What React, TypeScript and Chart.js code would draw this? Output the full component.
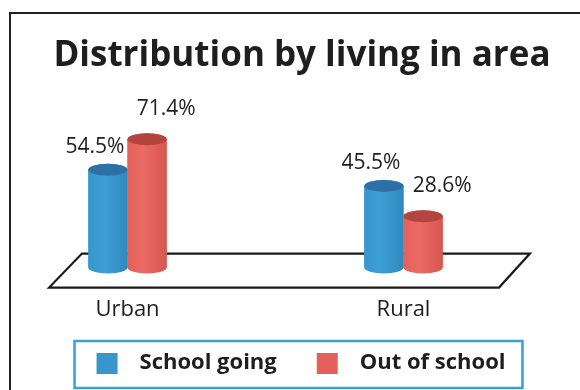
import React, { useEffect, useRef } from "react";
import { Chart, registerables } from "chart.js";

Chart.register(...registerables);

const categories = ["Urban", "Rural"];
const seriesLabels = ["School going", "Out of school"];
const schoolGoing = [54.5, 45.5];
const outOfSchool = [71.4, 28.6];
const chartTitle = "Distribution by living in area";

const FONT = "'Open Sans', Lato, sans-serif";
const TEXT = "#1e1e1e";
const BODY = ["#3796cc", "#e4605a"];
const BODY_LIGHT = ["#3d9fd6", "#ea6b64"];
const BODY_DARK = ["#3189bd", "#d85650"];
const TOPS = ["#2e70a6", "#b3443f"];
const LABEL_DX = [-13, 19];
const LABEL_DY = [-23, -30];

function swatch(color: string) {
  const c = document.createElement("canvas");
  c.width = 62;
  c.height = 21;
  const g = c.getContext("2d")!;
  g.fillStyle = color;
  g.fillRect(30, 0, 21, 21);
  return c;
}

function drawCylinder(ctx: CanvasRenderingContext2D, x: number, top: number, base: number, w: number, i: number) {
  const rx = w / 2;
  const ry = 6;
  ctx.save();
  const grad = ctx.createLinearGradient(x - rx, 0, x + rx, 0);
  grad.addColorStop(0, BODY[i]);
  grad.addColorStop(0.4, BODY_LIGHT[i]);
  grad.addColorStop(1, BODY_DARK[i]);
  ctx.fillStyle = grad;
  ctx.beginPath();
  ctx.moveTo(x - rx, top);
  ctx.lineTo(x - rx, base);
  ctx.ellipse(x, base, rx, ry, 0, Math.PI, 0, true);
  ctx.lineTo(x + rx, top);
  ctx.ellipse(x, top, rx, ry, 0, 0, Math.PI, true);
  ctx.closePath();
  ctx.fill();
  ctx.fillStyle = TOPS[i];
  ctx.beginPath();
  ctx.ellipse(x, top, rx, ry, 0, 0, Math.PI * 2);
  ctx.fill();
  ctx.restore();
}

const floorPlugin = {
  id: "floor3d",
  afterLayout(chart: any) {
    if (chart.legend) {
      chart.legend.left -= 16;
      chart.legend.right -= 16;
    }
  },
  beforeDatasetsDraw(chart: any) {
    const { ctx } = chart;
    const xs = chart.scales.x;
    const ys = chart.scales.y;
    const x0 = xs.getPixelForValue(0);
    const x1 = xs.getPixelForValue(1);
    const step = x1 - x0;
    const base = ys.getPixelForValue(0);
    const backY = base - 14;
    const frontY = base + 20;
    ctx.save();
    ctx.strokeStyle = "#1a1a1a";
    ctx.lineWidth = 2.2;
    ctx.lineJoin = "miter";
    ctx.beginPath();
    ctx.moveTo(x0 - 0.165 * step, backY);
    ctx.lineTo(x1 + 0.458 * step, backY);
    ctx.lineTo(x1 + 0.346 * step, frontY);
    ctx.lineTo(x0 - 0.284 * step, frontY);
    ctx.closePath();
    ctx.stroke();
    ctx.restore();
  },
  afterDatasetsDraw(chart: any) {
    const { ctx } = chart;
    const metas = [0, 1].map((d) => chart.getDatasetMeta(d));
    for (let k = 0; k < categories.length; k++) {
      metas.forEach((meta: any, d: number) => {
        const el = meta.data[k];
        drawCylinder(ctx, el.x, el.y, el.base, el.width, d);
      });
    }
    ctx.save();
    ctx.fillStyle = TEXT;
    ctx.font = `21px ${FONT}`;
    ctx.textAlign = "center";
    ctx.textBaseline = "middle";
    metas.forEach((meta: any, d: number) => {
      meta.data.forEach((el: any, k: number) => {
        const v = chart.data.datasets[d].data[k];
        ctx.fillText(`${v.toFixed(1)}%`, el.x + LABEL_DX[d], el.y + LABEL_DY[d]);
      });
    });
    ctx.restore();
  },
  afterDraw(chart: any) {
    const hb = chart.legend && chart.legend.legendHitBoxes;
    if (!hb || !hb.length) return;
    const { ctx } = chart;
    const left = hb[0].left + 30 - 22;
    const last = hb[hb.length - 1];
    const right = last.left + last.width + 17;
    const top = hb[0].top - 11;
    const bottom = hb[0].top + hb[0].height + 14;
    ctx.save();
    ctx.strokeStyle = "#3a9fd6";
    ctx.lineWidth = 2.5;
    ctx.strokeRect(left, top, right - left, bottom - top);
    ctx.restore();
  },
};

export default function App() {
  const ref = useRef<HTMLCanvasElement | null>(null);
  useEffect(() => {
    if (!ref.current) return;
    const swatches = BODY.map((c) => swatch(c));
    const chart = new Chart(ref.current, {
      type: "bar",
      data: {
        labels: categories,
        datasets: [
          { label: seriesLabels[0], data: schoolGoing, backgroundColor: BODY[0], clip: false as any },
          { label: seriesLabels[1], data: outOfSchool, backgroundColor: BODY[1], clip: false as any },
        ],
      },
      options: {
        responsive: false,
        animation: false,
        events: [],
        layout: { padding: { left: 24, right: 0, top: 0, bottom: 6 } },
        datasets: { bar: { categoryPercentage: 0.284, barPercentage: 1 } },
        scales: {
          x: {
            offset: false,
            grid: { display: false, drawTicks: true, tickLength: 10 },
            border: { display: false },
            ticks: { color: TEXT, font: { family: FONT, size: 22 }, padding: 19, maxRotation: 0, autoSkip: false },
          },
          y: {
            position: "left",
            min: 0,
            max: 100,
            grid: { display: false, drawTicks: false },
            border: { display: false },
            ticks: { display: false },
            afterFit: (s: any) => { s.width = 103.5; },
          },
          y2: {
            position: "right",
            min: 0,
            max: 100,
            grid: { display: false, drawTicks: false },
            border: { display: false },
            ticks: { display: false },
            afterFit: (s: any) => { s.width = 176.5; },
          },
        },
        plugins: {
          tooltip: { enabled: false },
          title: {
            display: true,
            text: chartTitle,
            color: TEXT,
            font: { family: FONT, size: 35, weight: "bold" },
            padding: { top: 35, bottom: 11 },
          },
          legend: {
            position: "bottom",
            labels: {
              usePointStyle: true,
              pointStyleWidth: 62,
              boxHeight: 21,
              padding: 10,
              color: TEXT,
              font: { family: FONT, size: 22, weight: "bold" },
              generateLabels: (c: any) =>
                Chart.defaults.plugins.legend.labels.generateLabels(c).map((l: any, i: number) => ({
                  ...l,
                  pointStyle: swatches[i],
                })),
            },
          },
        },
      } as any,
      plugins: [floorPlugin],
    });
    return () => chart.destroy();
  }, []);

  return (
    <div style={{ position: "fixed", left: 0, top: 0, width: 580, height: 390, overflow: "hidden", background: "#fff" }}>
      <div
        style={{
          position: "absolute",
          left: 9,
          top: 12,
          width: 640,
          height: 440,
          border: "2px solid #222",
          boxSizing: "border-box",
        }}
      />
      <canvas ref={ref} width={580} height={390} style={{ position: "absolute", left: 0, top: 0, width: 580, height: 390 }} />
    </div>
  );
}
